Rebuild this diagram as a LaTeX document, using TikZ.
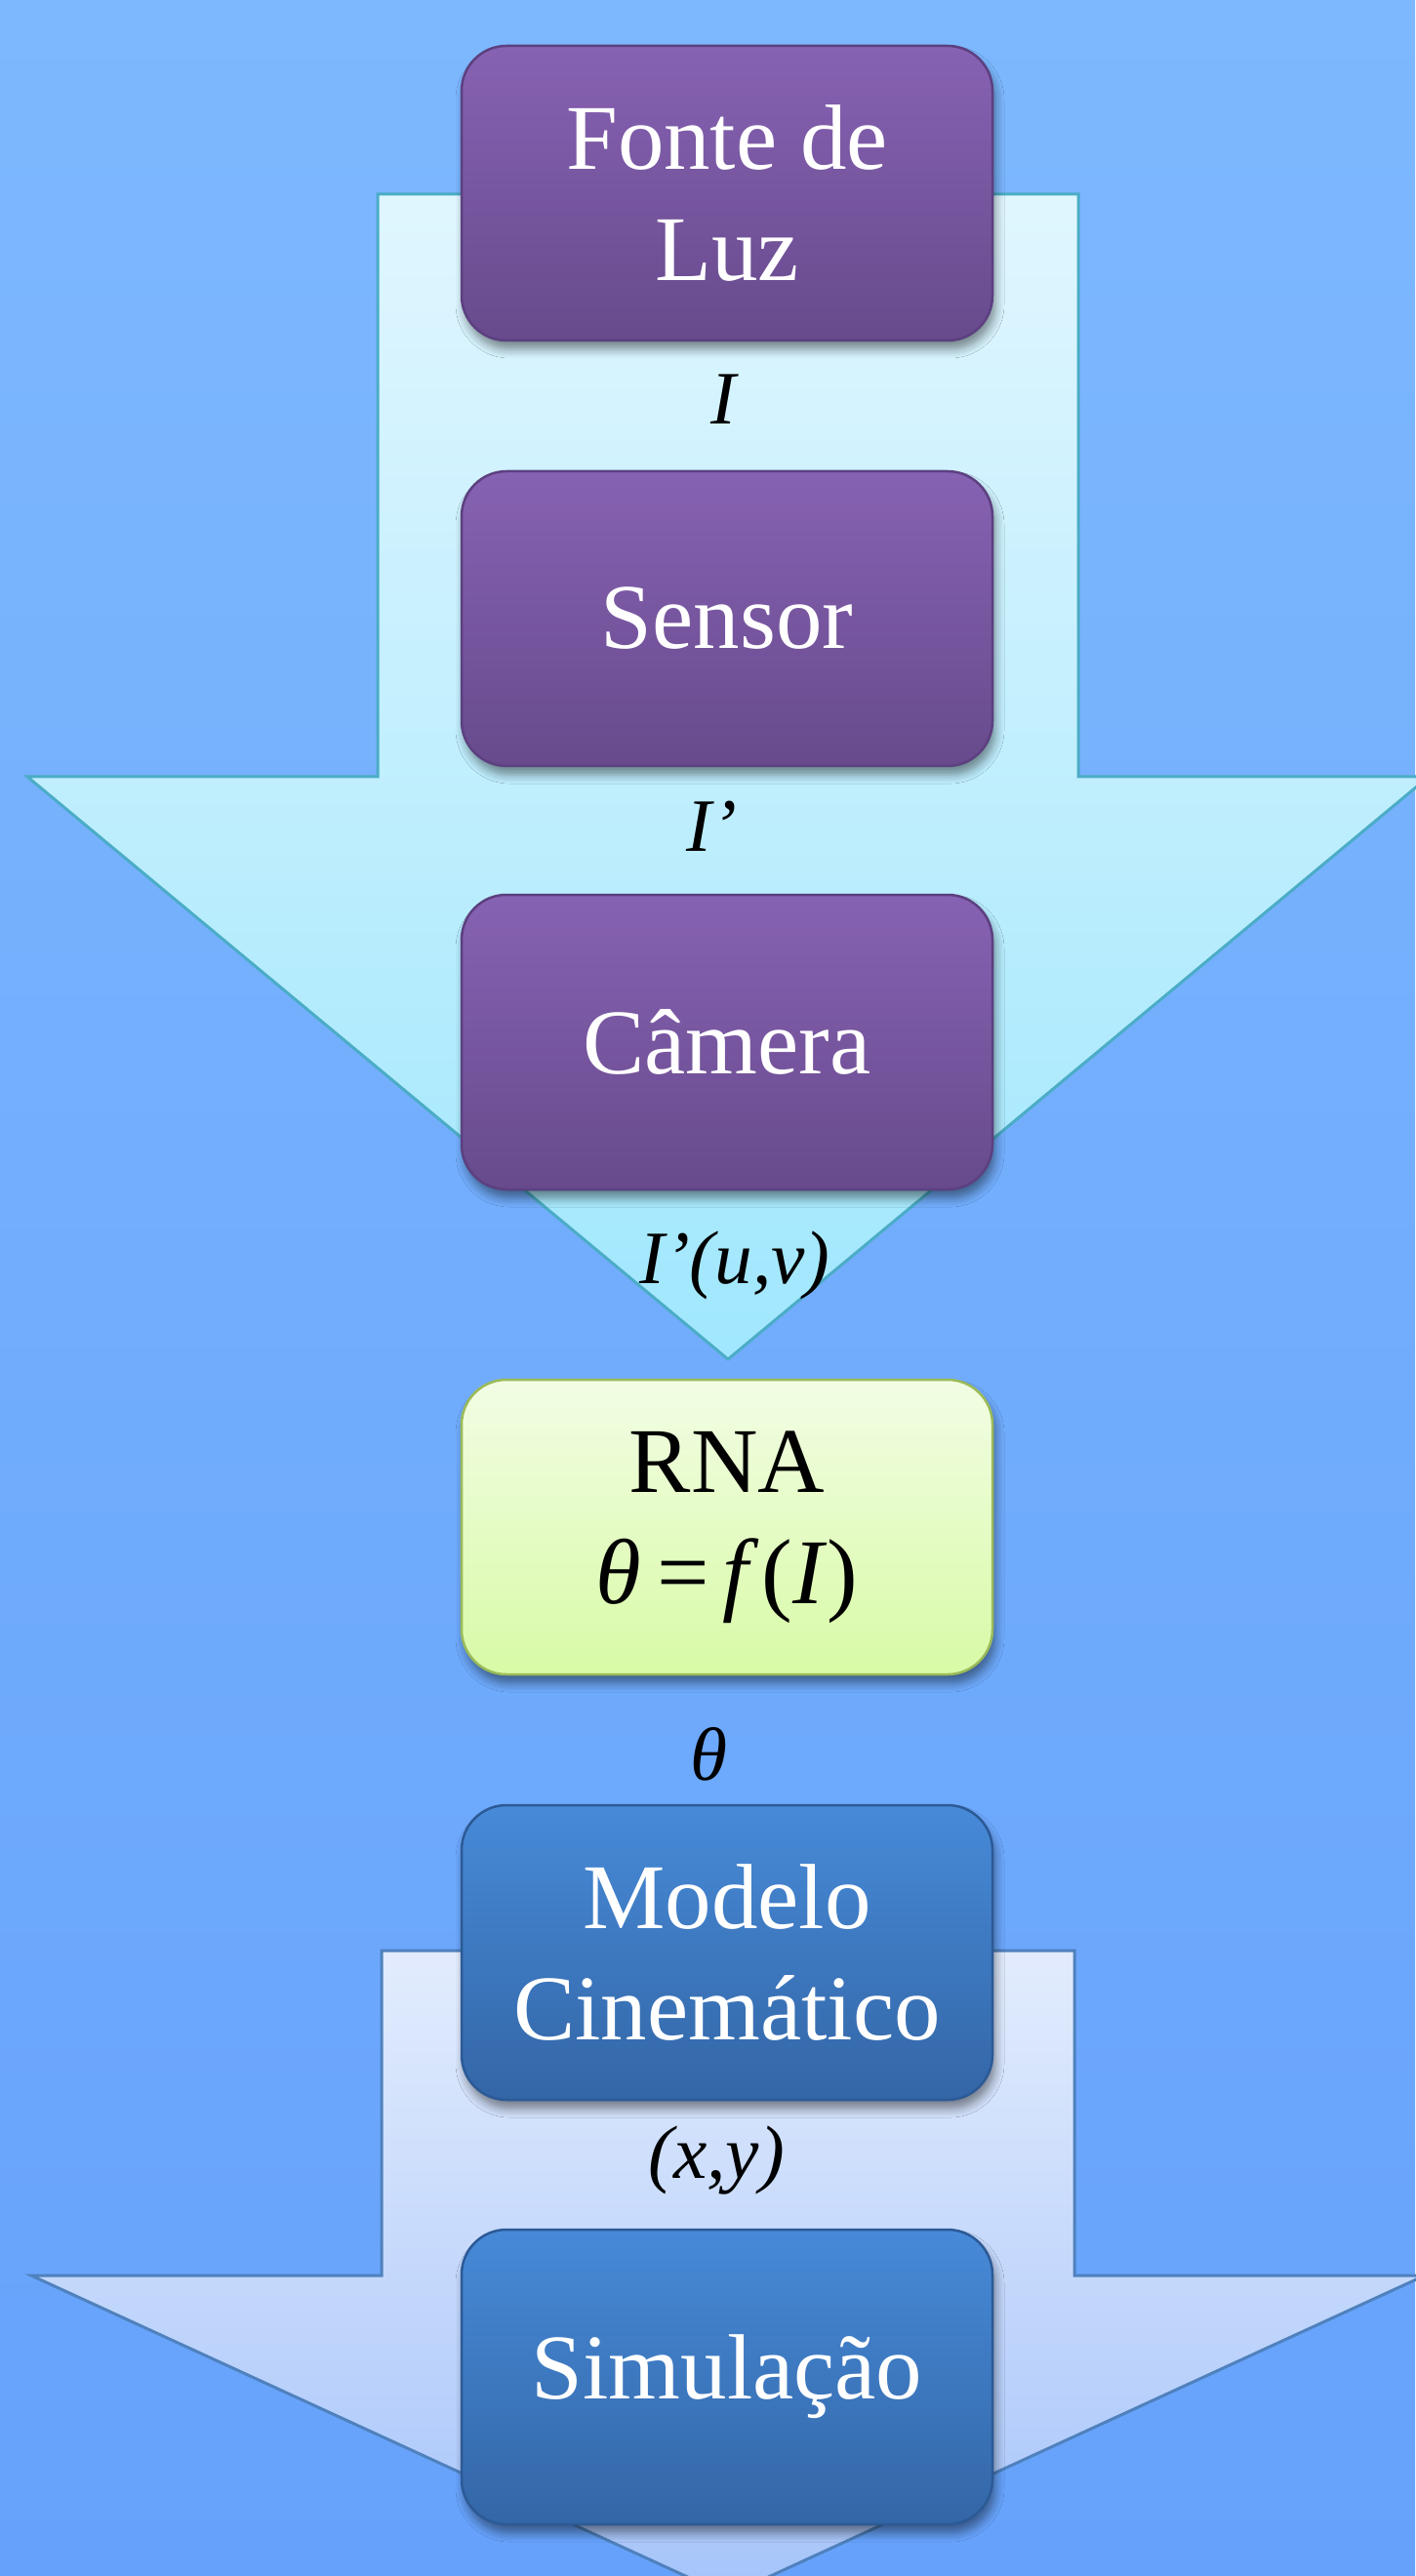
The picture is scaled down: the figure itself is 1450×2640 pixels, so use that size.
\documentclass[tikz,border=0pt]{standalone}
\usepackage{fontspec}
\setmainfont{Liberation Serif}
\usetikzlibrary{shadows.blur}

\definecolor{bgtop}{RGB}{125,184,254}
\definecolor{bgbot}{RGB}{102,162,251}
\definecolor{cyantop}{RGB}{224,246,254}
\definecolor{cyanbot}{RGB}{160,231,253}
\definecolor{cyanline}{RGB}{75,172,198}
\definecolor{paletop}{RGB}{226,236,253}
\definecolor{palebot}{RGB}{166,196,250}
\definecolor{paleline}{RGB}{79,129,189}
\definecolor{purtop}{RGB}{135,98,179}
\definecolor{purbot}{RGB}{103,74,140}
\definecolor{purline}{RGB}{92,64,128}
\definecolor{blutop}{RGB}{71,138,216}
\definecolor{blubot}{RGB}{51,102,166}
\definecolor{bluline}{RGB}{44,90,150}
\definecolor{grntop}{RGB}{242,253,228}
\definecolor{grnbot}{RGB}{216,250,166}
\definecolor{grnline}{RGB}{155,187,89}

\tikzset{
  x=0.1mm, y=-0.1mm,
  stagebox/.style={rounded corners=4.6mm, minimum width=54.4mm, minimum height=30.2mm,
    align=center, inner sep=0pt, line width=0.25mm,
    font=\fontsize{27}{32.4}\selectfont,
    blur shadow={shadow xshift=0.3mm, shadow yshift=-0.9mm, shadow blur radius=0.9mm,
      shadow blur steps=6, shadow opacity=45}},
  purplebox/.style={stagebox, draw=purline, top color=purtop, bottom color=purbot, text=white},
  bluebox/.style={stagebox, draw=bluline, top color=blutop, bottom color=blubot, text=white},
  greenbox/.style={stagebox, draw=grnline, top color=grntop, bottom color=grnbot, text=black},
  flowlabel/.style={font=\fontsize{22}{26}\selectfont\itshape, text=black, inner sep=0pt},
}

\begin{document}
\begin{tikzpicture}
  % background
  \useasboundingbox (0,0) rectangle (1450,2640);
  \shade[top color=bgtop, bottom color=bgbot] (0,0) rectangle (1450,2640);

  % upper block arrow (acquisition)
  \shade[top color=cyantop, bottom color=cyanbot]
    (387,199) -- (1105,199) -- (1105,796) -- (1464,796) -- (746,1393)
    -- (28,796) -- (387,796) -- cycle;
  \draw[cyanline, line width=0.3mm]
    (387,199) -- (1105,199) -- (1105,796) -- (1464,796) -- (746,1393)
    -- (28,796) -- (387,796) -- cycle;

  % lower block arrow (kinematics)
  \shade[top color=paletop, bottom color=palebot]
    (391,1999) -- (1101,1999) -- (1101,2332) -- (1460,2332) -- (746,2660)
    -- (32,2332) -- (391,2332) -- cycle;
  \draw[paleline, line width=0.3mm]
    (391,1999) -- (1101,1999) -- (1101,2332) -- (1460,2332) -- (746,2660)
    -- (32,2332) -- (391,2332) -- cycle;

  % stages
  \node[purplebox] (fonte)  at (745,198)  {Fonte de\\Luz};
  \node[purplebox] (sensor) at (745,634)  {Sensor};
  \node[purplebox] (camera) at (745,1068) {Câmera};
  \node[greenbox]  (rna)    at (745,1565) {RNA\\\textit{θ}\kern1.6mm=\kern1.4mm\textit{f}\kern0.3mm(\textit{I})};
  \node[bluebox]   (modelo) at (745,2001) {Modelo\\Cinemático};
  \node[bluebox]   (simul)  at (745,2436) {Simulação};

  % signals between stages
  \node[flowlabel] (lI)   at (741,409)  {I};
  \node[flowlabel] (lIp)  at (729,847)  {I’};
  \node[flowlabel] (lIuv) at (753,1297) {I’(u,v)};
  \node[flowlabel] (lth)  at (726,1798) {θ};
  \node[flowlabel] (lxy)  at (734,2214) {(x,y)};
\end{tikzpicture}
\end{document}
